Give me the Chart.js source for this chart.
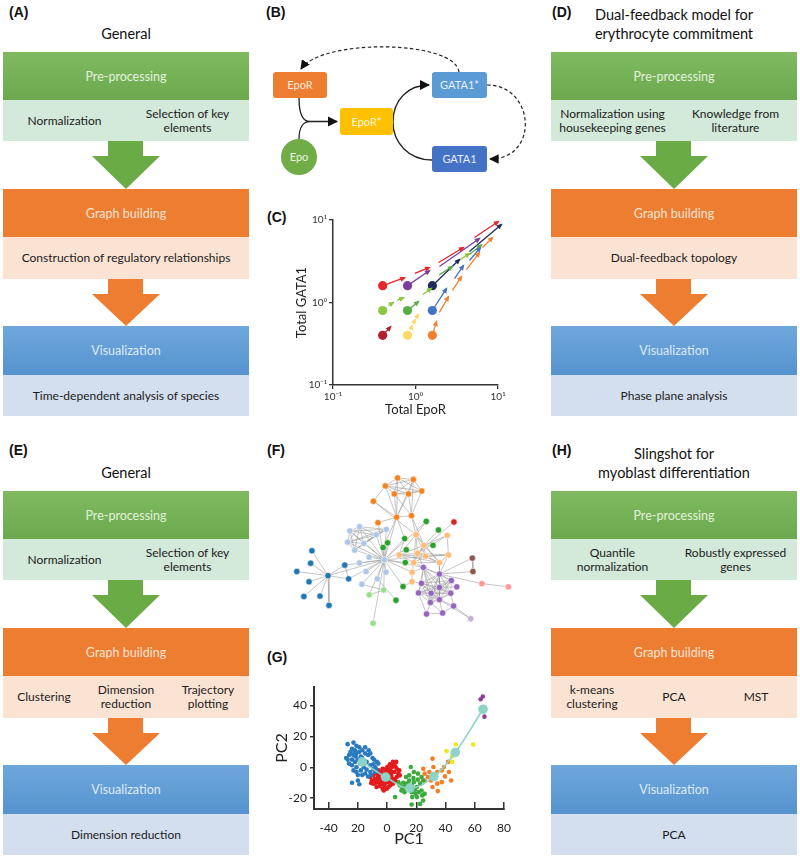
<!DOCTYPE html>
<html>
<head>
<meta charset="utf-8">
<script src="https://cdn.jsdelivr.net/npm/chart.js@4.4.0/dist/chart.umd.min.js"></script>
<style>
  body { margin: 0; background: #fff; font-family: Lato, 'Open Sans', sans-serif; }
  #page { position: relative; width: 800px; height: 859px; overflow: hidden; }
  .lbl { position: absolute; font: bold 14px 'Liberation Sans', Arial, sans-serif; color: #111; line-height: 16px; }
  .ttl { position: absolute; text-align: center; font-size: 14.5px; color: #111; line-height: 19px; }
  .hdr { position: absolute; display: flex; align-items: center; justify-content: center; font-size: 12.5px; }
  .sub { position: absolute; display: flex; font-size: 12px; color: #1b1b1b; line-height: 14px; }
  .sub > div { flex: 1; display: flex; align-items: center; justify-content: center; text-align: center; }
  .arr { position: absolute; clip-path: polygon(16px 0, 51px 0, 51px 15px, 68px 15px, 34px 100%, 0 15px, 16px 15px); }
  .g1 { background: linear-gradient(#7fba61, #6ca94e); color: #e4f1dc; }
  .g2 { background: #d3e9da; }
  .o1 { background: #ed7d31; color: #fbe3d3; }
  .o2 { background: #fbe3d4; }
  .b1 { background: linear-gradient(#6fa7dc, #5593cf); color: #deebf7; }
  .b2 { background: #d3dfee; }
  .ag { background: #6aab45; }
  .ao { background: #ed7d31; }
  canvas { position: absolute; }
</style>
</head>
<body>
<div id="page">
  <div class="lbl" style="left:9px;top:4px">(A)</div>
  <div class="lbl" style="left:266px;top:4px">(B)</div>
  <div class="lbl" style="left:267px;top:209px">(C)</div>
  <div class="lbl" style="left:552px;top:4px">(D)</div>
  <div class="lbl" style="left:9px;top:442px">(E)</div>
  <div class="lbl" style="left:267px;top:442px">(F)</div>
  <div class="lbl" style="left:267px;top:649px">(G)</div>
  <div class="lbl" style="left:552px;top:442px">(H)</div>

  <svg style="position:absolute;left:250px;top:0" width="290" height="190" viewBox="250 0 290 190">
    <defs>
      <marker id="ah" viewBox="0 0 10 10" refX="9" refY="5" markerWidth="8" markerHeight="8" orient="auto-start-reverse">
        <path d="M0,0 L10,5 L0,10 z" fill="#111"/>
      </marker>
    </defs>
    <g font-family="Lato, 'Open Sans', sans-serif" font-size="11" text-anchor="middle">
      <path d="M299,98 C299,114 303,121.5 310,121.5 M299,139 C299,128 303,121.5 310,121.5 L337,121.5" fill="none" stroke="#222" stroke-width="1.3" marker-end="url(#ah)"/>
      <path d="M432,160 C408,160 393,142 393,122 C393,100 408,85 429,85" fill="none" stroke="#222" stroke-width="1.3" marker-end="url(#ah)"/>
      <path d="M459,72 C455,40 322,38 301,69" fill="none" stroke="#222" stroke-width="1.2" stroke-dasharray="3.5,2.5" marker-end="url(#ah)"/>
      <path d="M487,85 C535,85 540,159 490,159" fill="none" stroke="#222" stroke-width="1.2" stroke-dasharray="3.5,2.5" marker-end="url(#ah)"/>
      <rect x="273" y="72" width="54" height="26" rx="3" fill="#ed7d31"/>
      <text x="300" y="89" fill="#fde9dc">EpoR</text>
      <rect x="340" y="108" width="53" height="27" rx="3" fill="#ffc000"/>
      <text x="366.5" y="125.5" fill="#fff7dd">EpoR*</text>
      <rect x="432" y="72" width="55" height="26" rx="3" fill="#5b9bd5"/>
      <text x="459.5" y="89" fill="#e8f1fa">GATA1*</text>
      <rect x="432" y="146" width="55" height="26" rx="3" fill="#4472c4"/>
      <text x="459.5" y="163" fill="#e6edf8">GATA1</text>
      <circle cx="299" cy="157" r="18" fill="#70ad47"/>
      <text x="299" y="161" fill="#e9f4e2">Epo</text>
    </g>
  </svg>

  <canvas id="chartC" width="260" height="230" style="left:260px;top:190px"></canvas>
  <canvas id="chartF" width="270" height="220" style="left:260px;top:420px"></canvas>
  <canvas id="chartG" width="270" height="199" style="left:260px;top:660px"></canvas>
</div>

<script>
// ---------- (C) phase plane data ----------
const cTickValues = [0.1, 1, 10];
const cTickLabels = ['10⁻¹', '10⁰', '10¹'];
const dotX = [0.4, 0.8, 1.6, 0.4, 0.8, 1.6, 0.4, 0.8, 1.6];
const dotY = [1.6, 1.6, 1.6, 0.8, 0.8, 0.8, 0.4, 0.4, 0.4];
const dotColors = ['#e8262a', '#7b3f9e', '#1f2d5c', '#8dc63f', '#5aae46', '#4472c4', '#b0202a', '#ffd966', '#f0822f'];
// each segment: [x1, y1, x2, y2]
const trajRed = [[0.4, 1.6, 0.74, 2.0], [0.98, 2.25, 1.48, 2.66], [1.9, 3.05, 3.82, 4.64], [5.19, 6.14, 10.1, 9.6]];
const trajPurple = [[0.8, 1.6, 1.48, 2.44], [1.95, 2.73, 5.97, 5.97]];
const trajNavy = [[1.6, 1.6, 3.41, 3.32], [4.51, 4.15, 11.0, 8.83]];
const trajLightGreen = [[0.47, 0.92, 0.54, 1.0], [0.6, 1.06, 0.72, 1.15], [1.22, 1.25, 1.56, 1.48], [3.23, 3.14, 4.51, 3.93]];
const trajGreen = [[0.8, 0.8, 1.09, 1.03], [1.95, 2.18, 2.81, 2.73], [4.51, 3.82, 6.31, 5.0]];
const trajBlue = [[1.6, 0.8, 2.38, 1.48], [2.97, 1.95, 3.82, 2.81], [4.51, 3.23, 6.14, 4.64]];
const trajDarkRed = [[0.4, 0.4, 0.5, 0.51]];
const trajYellow = [[0.87, 0.47, 0.92, 0.53], [0.95, 0.57, 1.0, 0.62], [1.03, 0.66, 1.09, 0.72]];
const trajOrange = [[1.6, 0.4, 1.8, 0.59], [1.95, 0.76, 2.51, 1.18], [2.81, 1.4, 3.61, 2.07], [4.15, 2.51, 5.97, 4.04], [6.49, 4.64, 8.59, 6.14]];

// ---------- (F) network data ----------
const fGroupColors = ['#f58220', '#aec7e8', '#1f77b4', '#2ca02c', '#d62728', '#ffbb78', '#9467bd', '#8c564b', '#ff9896', '#c5b0d5', '#98df8a'];
const fNodeX = [41.3, 46.2, 37.5, 48.8, 40.3, 44.7, 33.8, 41.0, 45.6, 35.2,
  26.5, 29.5, 25.8, 28.0, 30.8, 34.7, 37.8, 37.2, 32.5, 29.5, 31.5, 30.2, 35.0, 37.7,
  19.7, 14.7, 14.3, 10.0, 13.8, 12.2, 17.2, 20.0, 24.9, 26.1,
  50.2, 54.0, 43.5, 38.2, 36.8, 44.0, 43.7, 52.3, 43.0, 40.8,
  58.8,
  47.0, 56.7, 49.5, 41.8, 47.5, 50.0, 46.3, 54.3, 57.1, 45.8, 45.8,
  49.3, 54.3, 48.7, 58.0, 59.7, 47.8, 51.7, 54.3, 57.8, 51.5, 54.3, 58.7, 55.3, 50.3,
  64.5, 64.7, 67.5, 75.7, 64.0, 32.5, 37.0, 33.7];
const fNodeY = [16.7, 17.2, 19.2, 20.8, 21.7, 21.7, 24.0, 29.0, 28.5, 30.7,
  33.3, 32.0, 36.8, 39.3, 37.2, 34.5, 32.8, 42.3, 41.5, 43.3, 46.0, 50.0, 48.3, 46.2,
  47.3, 39.5, 43.4, 46.0, 49.2, 53.8, 53.7, 56.6, 44.0, 48.3,
  30.3, 33.0, 35.7, 37.0, 38.5, 39.2, 43.2, 37.8, 50.7, 55.0,
  30.5,
  34.5, 34.7, 37.8, 40.8, 40.3, 41.2, 43.2, 43.2, 40.8, 46.2, 49.2,
  44.7, 46.8, 49.7, 48.8, 50.8, 52.7, 52.8, 51.0, 52.8, 55.7, 54.8, 56.8, 59.0, 59.3,
  41.8, 46.0, 49.8, 50.8, 60.8, 53.3, 51.8, 62.2];
const fNodeGroup = [0, 0, 0, 0, 0, 0, 0, 0, 0, 0,
  1, 1, 1, 1, 1, 1, 1, 1, 1, 1, 1, 1, 1, 1,
  2, 2, 2, 2, 2, 2, 2, 2, 2, 2,
  3, 3, 3, 3, 3, 3, 3, 3, 3, 3,
  4,
  5, 5, 5, 5, 5, 5, 5, 5, 5, 5, 5,
  6, 6, 6, 6, 6, 6, 6, 6, 6, 6, 6, 6, 6, 6,
  7, 7, 8, 8, 9, 10, 10, 10];
const fCliques = [[0, 1, 2, 3, 4, 5], [10, 11, 12, 13, 14, 15, 16], [56, 57, 58, 59, 61, 62, 63, 64, 65, 66], [45, 47, 48, 49, 50, 51, 52]];
const fEdges = [[7, 0], [7, 2], [7, 4], [7, 5], [7, 1], [8, 1], [8, 3], [8, 5], [7, 8], [6, 7], [6, 2], [6, 45], [9, 7], [9, 17], [7, 17], [7, 38], [8, 45], [8, 47], [7, 36], [4, 8],
  [15, 17], [16, 17], [14, 17], [13, 17], [12, 17], [10, 17], [11, 17],
  [17, 18], [17, 19], [17, 20], [17, 21], [17, 22], [17, 23], [17, 24], [17, 32], [17, 33],
  [24, 25], [24, 26], [24, 27], [24, 28], [24, 29], [24, 30], [24, 31], [24, 32], [24, 33], [32, 33],
  [34, 45], [35, 47], [36, 17], [36, 48], [37, 17], [38, 17], [39, 17], [40, 17], [41, 47], [42, 55], [42, 17], [43, 22], [34, 17],
  [44, 49],
  [17, 54], [17, 56], [17, 53],
  [46, 47], [46, 53], [52, 53], [53, 49], [54, 51], [55, 54], [46, 49], [53, 50],
  [49, 56], [51, 56], [52, 57], [53, 57], [55, 58], [54, 56],
  [59, 60], [60, 63], [60, 64], [67, 64], [67, 66], [68, 65], [68, 66], [69, 65], [69, 61], [67, 68], [68, 69],
  [70, 71], [70, 57], [71, 57], [72, 57], [72, 73], [74, 66], [74, 67],
  [75, 76], [75, 17], [76, 17], [77, 17], [76, 21]];

// ---------- (G) PCA data ----------
const gXTicks = [-40, -20, 0, 20, 40, 60, 80];
const gXLabels = ['-40', '20', '0', '20', '40', '60', '80'];
const gYTicks = [-20, 0, 20, 40];
const gYLabels = ['-20', '0', '20', '40'];
const pcaBlue = [[-27, 15], [-23, 16], [-21, 14], [-19, 13], [-24, 12], [-22, 11], [-25, 10], [-28, 6], [-26, 8], [-23, 8], [-21, 9], [-19, 10], [-17, 11], [-15, 9], [-13, 8], [-11.5, 9], [-10, 6], [-9, 5], [-7, 3.5], [-6, 2.4], [-24, 5], [-22, 3.5], [-20, 5], [-17, 6], [-14, 3.5], [-11.5, 1.3], [-9.4, -1], [-8.3, -3], [-11.5, -3], [-15, -4], [-18, -2], [-21, 0], [-23, -2], [-20, -5], [-17, -5], [-14, -1.5], [-24, 1.3], [-26, 2.4], [-19, -11], [-20, -8.5], [-24, -10], [-11, -5], [-8, 0], [-16, 0], [-27, 5], [-21.5, 7], [-18, 7], [-15, 13], [-12.6, 11], [-9.4, 2], [-7, -2], [-21, -3], [-18.5, 2.4], [-13, -6], [-22, 10], [-25, 9]];
const pcaRed = [[-11.5, -6.3], [-10.4, -8.5], [-9.4, -5.2], [-8.3, -7.4], [-7.2, -9.6], [-6.2, -6.3], [-5.1, -4.1], [-4, -7.4], [-3, -10.6], [-1.9, -11.7], [-0.9, -8.5], [0.2, -6.3], [1.3, -4.1], [2.3, -2], [3.4, 0.2], [4.5, 2.4], [5.5, 0.7], [6.6, -0.9], [2.8, -5.2], [4.5, -7.4], [6.6, -6.3], [7.7, -4.1], [1.3, -9.6], [2.3, -11.7], [-0.2, -13.9], [-3, -13.9], [-5.1, -10.6], [-7.2, -12.8], [-9.4, -10.6], [-4, -3], [-1.5, -1.5], [0.2, 0.2], [1.9, 2], [4, 3.5], [6.2, 3.5], [8.3, -2], [8.7, -5.2], [-5.7, -2], [-7.9, -3.7], [-10.9, -10.2], [-1.9, -4.6], [0.9, -12.8], [4, -10.6], [5.5, -8.5], [-2.3, -15],
  [-3, -6], [-1, -8], [1, -7], [-2, -4], [0, -3], [3, -8], [-4, -9], [-6, -5], [2, -10], [-1, -10], [3, -3], [-3, -1], [5, -3], [-8, -10], [1, -1], [-5, -12], [-6.5, -8], [-2.5, -8.5]];
const pcaGreen = [[16.2, 0.2], [18.3, -3], [21.1, -4.1], [23.6, -6.3], [24.7, -8.5], [22.6, -10.6], [20.4, -12.8], [18.3, -9.6], [15.1, -8.5], [13, -10.6], [10.9, -12.8], [8.7, -11.7], [9.8, -15], [11.9, -16.1], [14, -13.9], [16.8, -16.1], [19.4, -17.2], [21.5, -16.1], [24, -18.2], [24.7, -21.5], [22.6, -23.7], [16.8, -24.1], [5.5, -19.3], [7.7, -9.6], [13, -6.3], [15.1, -5.2], [17.2, -19.3], [20.4, -19.3], [23.6, -15], [25.7, -17.2],
  [11, -10], [12.5, -13], [17, -12], [19, -14.5], [10.5, -14], [14.5, -11], [18, -7], [21, -8]];
const pcaOrange = [[24.7, -0.9], [25.7, -4.1], [27.9, -6.3], [31.1, 5.6], [31.7, 0.2], [30, -8.5], [34.3, -3], [37.4, -2], [38.9, 0.2], [41.7, 3.5], [42.3, -3], [43.8, -8.5], [39.6, -5.9], [34.3, -10.6], [34.7, -15.4], [31.1, -12.8], [25.7, -8.5], [37.4, -9.6], [28.9, -3]];
const pcaYellow = [[40.6, 10.6], [47, 14.8], [58.9, 14.8], [44.5, 7.2], [44.5, 3.5]];
const pcaPurple = [[64, 44.1], [65.5, 45.8], [66.6, 32.8]];
const lineageX = [-17, -1, 15.5, 32, 46.6, 65.6];
const lineageY = [3.5, -6.3, -13.5, -6, 9.6, 37.6];

Chart.defaults.font.family = "Lato, 'DejaVu Sans', sans-serif";
Chart.defaults.color = '#222';
Chart.defaults.animation = false;
Chart.defaults.responsive = false;
Chart.defaults.devicePixelRatio = 1;
Chart.defaults.plugins.legend.display = false;
Chart.defaults.plugins.tooltip.enabled = false;

// ---------- flow panels ----------
function flowPanel(L, T, title, preCols, graphCols, visCols) {
  const page = document.getElementById('page');
  const add = (cls, css, html) => {
    const d = document.createElement('div');
    d.className = cls;
    for (const k in css) d.style[k] = typeof css[k] === 'number' ? css[k] + 'px' : css[k];
    d.innerHTML = html || '';
    page.appendChild(d);
  };
  const cols = c => c.map(t => `<div>${t}</div>`).join('');
  add('ttl', { left: L, top: T + 42.5 - title.length * 19, width: 246 }, title.join('<br>'));
  add('hdr g1', { left: L, top: T + 52, width: 246, height: 48 }, 'Pre-processing');
  add('sub g2', { left: L, top: T + 100, width: 246, height: 41 }, cols(preCols));
  add('arr ag', { left: L + 89, top: T + 141, width: 68, height: 48 });
  add('hdr o1', { left: L, top: T + 189, width: 246, height: 48 }, 'Graph building');
  add('sub o2', { left: L, top: T + 237, width: 246, height: 42 }, cols(graphCols));
  add('arr ao', { left: L + 89, top: T + 279, width: 68, height: 47 });
  add('hdr b1', { left: L, top: T + 326, width: 246, height: 49 }, 'Visualization');
  add('sub b2', { left: L, top: T + 375, width: 246, height: 41 }, cols(visCols));
}

flowPanel(3, 0, ['General'], ['Normalization', 'Selection of key<br>elements'], ['Construction of regulatory relationships'], ['Time-dependent analysis of species']);
flowPanel(551, 0, ['Dual-feedback model for', 'erythrocyte commitment'], ['Normalization using<br>housekeeping genes', 'Knowledge from<br>literature'], ['Dual-feedback topology'], ['Phase plane analysis']);
flowPanel(3, 439, ['General'], ['Normalization', 'Selection of key<br>elements'], ['Clustering', 'Dimension<br>reduction', 'Trajectory<br>plotting'], ['Dimension reduction']);
flowPanel(551, 439, ['Slingshot for', 'myoblast differentiation'], ['Quantile<br>normalization', 'Robustly expressed<br>genes'], ['k-means<br>clustering', 'PCA', 'MST'], ['PCA']);

// ---------- (C) ----------
const arrowHeads = {
  id: 'arrowHeads',
  afterDatasetsDraw(chart) {
    const ctx = chart.ctx;
    chart.data.datasets.forEach((ds, i) => {
      if (!ds.arrows) return;
      const pts = chart.getDatasetMeta(i).data;
      ctx.save();
      ctx.fillStyle = ds.borderColor;
      for (let k = 1; k < pts.length; k += 3) {
        const a = pts[k - 1], b = pts[k];
        const ang = Math.atan2(b.y - a.y, b.x - a.x);
        ctx.save();
        ctx.translate(b.x, b.y);
        ctx.rotate(ang);
        ctx.beginPath();
        ctx.moveTo(1.5, 0);
        ctx.lineTo(-4.5, -2.6);
        ctx.lineTo(-4.5, 2.6);
        ctx.closePath();
        ctx.fill();
        ctx.restore();
      }
      ctx.restore();
    });
  }
};

function trajData(segs) {
  const pts = [];
  segs.forEach(s => pts.push({ x: s[0], y: s[1] }, { x: s[2], y: s[3] }, { x: s[2], y: null }));
  return pts;
}

const trajList = [trajRed, trajPurple, trajNavy, trajLightGreen, trajGreen, trajBlue, trajDarkRed, trajYellow, trajOrange];
const cDatasets = trajList.map((t, i) => ({
  data: trajData(t),
  showLine: true,
  spanGaps: false,
  borderColor: dotColors[i],
  borderWidth: 1.3,
  pointRadius: 0,
  arrows: true,
  clip: false,
  order: 1
}));
cDatasets.push({
  data: dotX.map((x, i) => ({ x: x, y: dotY[i] })),
  backgroundColor: dotColors,
  pointRadius: 4.6,
  pointBorderWidth: 0,
  order: 0
});

function logAxis(title, isX) {
  return {
    type: 'logarithmic',
    min: 0.1,
    max: 10,
    afterBuildTicks: s => { s.ticks = cTickValues.map(v => ({ value: v })); },
    afterFit: s => { if (isX) s.height = 35; else s.width = 39; },
    ticks: { callback: (v, i) => cTickLabels[i], font: { size: 10 }, padding: 2, autoSkip: false, maxRotation: 0, color: '#333' },
    grid: { drawOnChartArea: false, drawTicks: true, tickLength: 4, color: '#333', lineWidth: 1.3 },
    border: { display: true, color: '#333', width: 1.5 },
    title: { display: true, text: title, font: { size: 13 }, padding: isX ? { top: 0, bottom: 2 } : 0, color: '#222' }
  };
}

new Chart(document.getElementById('chartC'), {
  type: 'scatter',
  data: { datasets: cDatasets },
  options: {
    layout: { padding: { left: 34, right: 22, top: 30, bottom: 0 } },
    scales: { x: logAxis('Total EpoR', true), y: logAxis('Total GATA1', false) }
  },
  plugins: [arrowHeads]
});

// ---------- (F) ----------
const edgePts = [];
const addEdge = (a, b) => {
  edgePts.push({ x: fNodeX[a], y: fNodeY[a] }, { x: fNodeX[b], y: fNodeY[b] }, { x: fNodeX[b], y: null });
};
fCliques.forEach(c => {
  for (let i = 0; i < c.length; i++) for (let j = i + 1; j < c.length; j++) addEdge(c[i], c[j]);
});
fEdges.forEach(e => addEdge(e[0], e[1]));

new Chart(document.getElementById('chartF'), {
  type: 'scatter',
  data: {
    datasets: [
      { data: fNodeX.map((x, i) => ({ x: x, y: fNodeY[i] })), backgroundColor: fNodeGroup.map(g => fGroupColors[g]), borderColor: '#fff', pointBorderWidth: 0.6, pointRadius: 3.2, order: 0 },
      { data: edgePts, showLine: true, spanGaps: false, borderColor: 'rgba(150,150,150,0.55)', borderWidth: 1, pointRadius: 0, order: 1 }
    ]
  },
  options: {
    layout: { padding: 0 },
    scales: {
      x: { display: false, min: 0, max: 81 },
      y: { display: false, min: 0, max: 66, reverse: true }
    }
  }
});

// ---------- (G) ----------
const toPts = arr => arr.map(p => ({ x: p[0], y: p[1] }));
const clusterSet = (arr, color) => ({ data: toPts(arr), backgroundColor: color, pointRadius: 2.3, pointBorderWidth: 0, order: 2 });

new Chart(document.getElementById('chartG'), {
  type: 'scatter',
  data: {
    datasets: [
      clusterSet(pcaBlue, '#2a7abf'),
      clusterSet(pcaRed, '#e41a1c'),
      clusterSet(pcaGreen, '#3caa3c'),
      clusterSet(pcaOrange, '#f57f20'),
      clusterSet(pcaYellow, '#f5e61c'),
      clusterSet(pcaPurple, '#8e3f9e'),
      {
        data: lineageX.map((x, i) => ({ x: x, y: lineageY[i] })),
        showLine: true, tension: 0.4, borderColor: '#8dd3c7', backgroundColor: '#8dd3c7',
        borderWidth: 1.6, pointRadius: 4.8, pointBorderWidth: 0, order: 0
      }
    ]
  },
  options: {
    layout: { padding: { left: 0, right: 12, top: 27, bottom: 0 } },
    scales: {
      x: {
        min: -50, max: 80,
        afterBuildTicks: s => { s.ticks = gXTicks.map(v => ({ value: v })); },
        afterFit: s => { s.height = 50; },
        ticks: { callback: (v, i) => gXLabels[i], font: { size: 12 }, padding: 19, autoSkip: false, maxRotation: 0, color: '#222' },
        grid: { drawOnChartArea: false, drawTicks: true, tickLength: -7, color: '#333', lineWidth: 1.5 },
        border: { display: true, color: '#333', width: 2 },
        title: { display: true, text: 'PC1', font: { size: 16 }, padding: { top: 0, bottom: 11 }, color: '#222' }
      },
      y: {
        min: -27, max: 52,
        afterBuildTicks: s => { s.ticks = gYTicks.map(v => ({ value: v })); },
        afterFit: s => { s.width = 54; },
        ticks: { callback: (v, i) => gYLabels[i], font: { size: 12 }, padding: 3, autoSkip: false, color: '#222' },
        grid: { drawOnChartArea: false, drawTicks: true, tickLength: 4, color: '#333', lineWidth: 1.5 },
        border: { display: true, color: '#333', width: 2 },
        title: { display: true, text: 'PC2', font: { size: 16 }, padding: { top: 12, bottom: 0 }, color: '#222' }
      }
    }
  }
});
</script>
</body>
</html>
